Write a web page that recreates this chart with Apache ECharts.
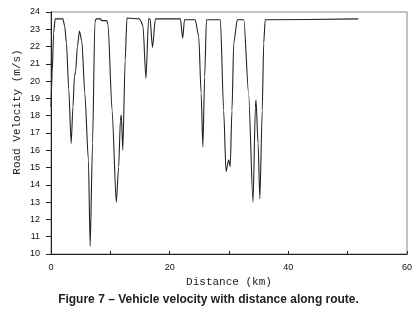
<!DOCTYPE html>
<html>
<head>
<meta charset="utf-8">
<script src="https://cdn.jsdelivr.net/npm/echarts@6/dist/echarts.min.js"></script>
<style>
  html, body { margin: 0; padding: 0; background: #fff; }
  #chart { width: 417px; height: 315px; }
</style>
</head>
<body>
<div id="chart"></div>
<script>
// distance along route (km) and road velocity (m/s)
const distKm = [
  0, 0.2, 0.45, 0.7, 2.0, 2.3, 2.6, 3.0, 3.4, 3.7, 3.95, 4.15, 4.45, 4.8, 5.2, 5.7, 6.3, 6.6, 7.0, 7.4,
  7.6, 8.4, 8.5, 9.4, 9.6, 10.3, 11.0, 11.4, 11.7, 11.85, 12.1, 12.5, 12.8, 14.9, 15.1, 15.5, 16.0, 16.45, 16.7, 17.1,
  17.6, 21.8, 22.2, 22.5, 24.3, 24.9, 25.3, 25.6, 25.9, 26.2, 28.55, 29.1, 29.5, 29.95, 30.2, 30.5, 30.8, 31.4, 32.5, 33.3,
  34.05, 34.45, 34.55, 34.9, 35.2, 35.6, 35.85, 36.1, 51.8
]
const velocity = [
  18.5, 20.5, 22.8, 23.6, 23.6, 23.2, 22.2, 19.5, 16.4, 18.5, 20.3, 20.55, 22.0, 22.9, 22.3, 19.3, 15.45, 10.45, 16.4, 23.4,
  23.6, 23.6, 23.5, 23.5, 23.3, 18.3, 13.0, 15.0, 17.75, 18.05, 16.0, 21.2, 23.65, 23.6, 23.5, 23.2, 20.15, 23.6, 23.6, 21.95,
  23.6, 23.6, 22.48, 23.55, 23.55, 22.6, 19.3, 16.2, 20.25, 23.55, 23.55, 18.3, 14.77, 15.45, 15.05, 18.3, 22.2, 23.55, 23.55, 19.3,
  13.0, 18.5, 18.9, 16.4, 13.2, 18.3, 22.2, 23.55, 23.6
]
const xLabels = [0, 20, 40, 60]

const chart = echarts.init(document.getElementById('chart'))

const option = {
  animation: false,
  title: {
    text: 'Figure 7 \u2013 Vehicle velocity with distance along route.',
    left: 'center',
    top: 289,
    textStyle: {
      fontFamily: 'Liberation Sans',
      fontSize: 12,
      fontWeight: 'bold',
      color: '#222'
    }
  },
  grid: {
    left: 51,
    right: 10,
    top: 12,
    bottom: 61,
    show: true,
    borderColor: '#888',
    borderWidth: 1
  },
  xAxis: {
    type: 'value',
    min: 0,
    max: 60,
    interval: 10,
    name: 'Distance (km)',
    nameLocation: 'middle',
    nameGap: 13,
    nameTextStyle: { fontFamily: 'Liberation Mono', fontSize: 11, color: '#222' },
    axisLine: { onZero: false, lineStyle: { color: '#222' } },
    axisTick: { inside: true, length: 3, lineStyle: { color: '#222' } },
    axisLabel: {
      fontFamily: 'Liberation Sans',
      fontSize: 9,
      color: '#111',
      margin: 9,
      formatter: v => (xLabels.indexOf(v) >= 0 ? String(v) : '')
    },
    splitLine: { show: false }
  },
  yAxis: {
    type: 'value',
    min: 10,
    max: 24,
    interval: 1,
    name: 'Road Velocity (m/s)',
    nameLocation: 'middle',
    nameGap: 28,
    nameMoveOverlap: false,
    nameTextStyle: {
      fontFamily: 'Liberation Mono',
      fontSize: 11,
      color: '#222',
      padding: [0, 0, 0, 42]
    },
    axisLine: { show: true, lineStyle: { color: '#222' } },
    axisTick: { show: true, length: 5, lineStyle: { color: '#222' } },
    axisLabel: { fontFamily: 'Liberation Sans', fontSize: 9, color: '#111', margin: 11 },
    splitLine: { show: false }
  },
  series: [
    {
      type: 'line',
      data: distKm.map((d, i) => [d, velocity[i]]),
      showSymbol: false,
      smooth: 0.25,
      smoothMonotone: 'x',
      lineStyle: { color: '#222', width: 1.1 }
    }
  ]
}

chart.setOption(option)
</script>
</body>
</html>
